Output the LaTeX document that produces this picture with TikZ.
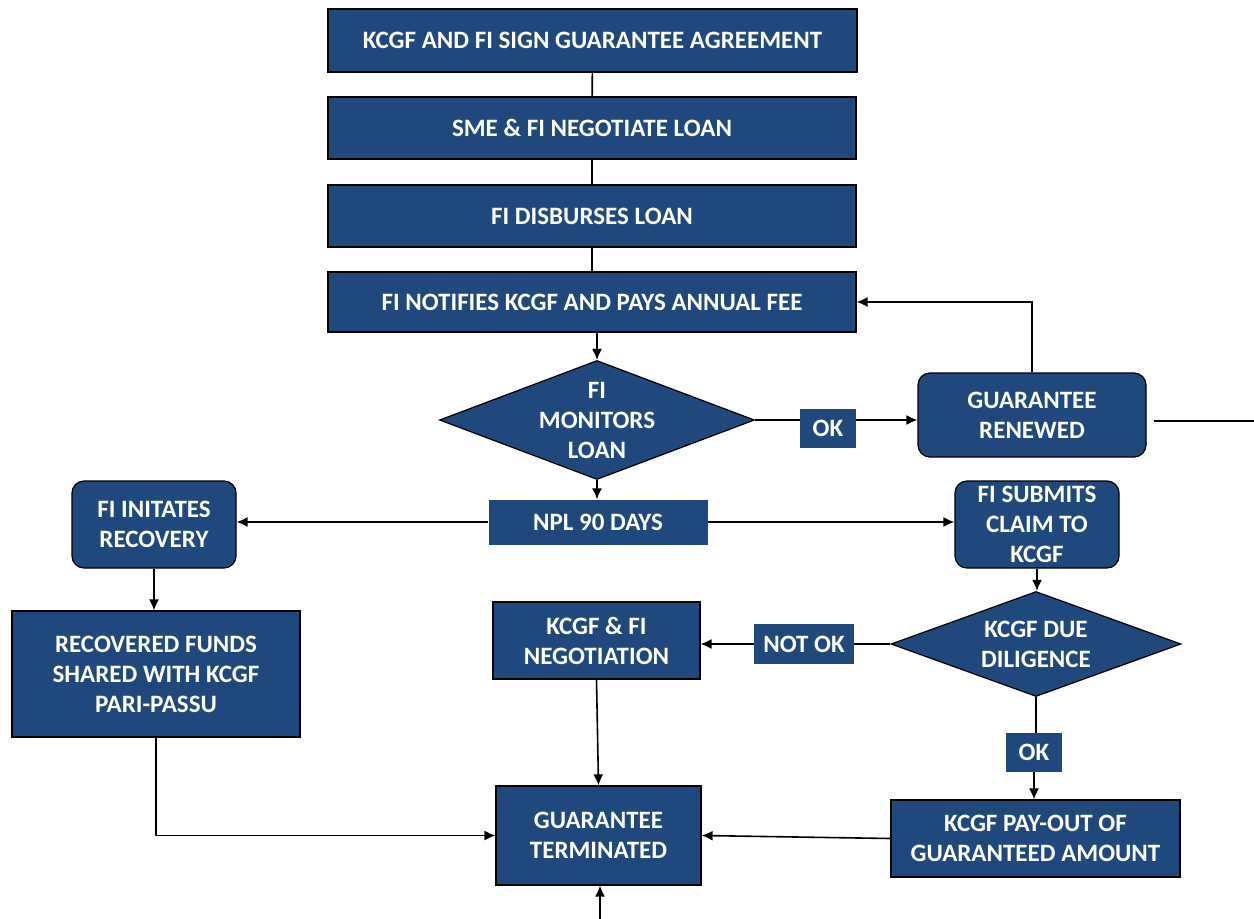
\documentclass[tikz,border=0pt]{standalone}
\usepackage{fontspec}
\setmainfont{Carlito}
\usepackage{tikz}
\usetikzlibrary{positioning,arrows.meta,shapes.geometric}
\definecolor{kblue}{HTML}{1F497D}

\begin{document}
\begin{tikzpicture}[
    x=1pt, y=-1pt,
    >={Latex[length=11pt,width=10pt]},
    font=\fontsize{25}{30}\selectfont\bfseries,
    box/.style={draw=black, fill=kblue, text=white, line width=1.2pt, align=center, inner sep=0pt},
    rbox/.style={box, rounded corners=12pt},
    tag/.style={fill=kblue, text=white, align=center, inner sep=0pt},
    decision/.style={diamond, draw=black, fill=kblue, line width=1.2pt, inner sep=0pt},
    flow/.style={->, line width=1.6pt},
    link/.style={-, line width=1.6pt}
]

\useasboundingbox (0,0) rectangle (1254,919);

% main column
\node[box, minimum width=529pt, minimum height=63pt] (agree) at (592.5,40.5) {KCGF AND FI SIGN GUARANTEE AGREEMENT};
\node[box, minimum width=528pt, minimum height=62pt] (negotiate) at (592,128) {SME \& FI NEGOTIATE LOAN};
\node[box, minimum width=528pt, minimum height=62pt] (disburse) at (592,216) {FI DISBURSES LOAN};
\node[box, minimum width=528pt, minimum height=60pt] (notify) at (592,302) {FI NOTIFIES KCGF AND PAYS ANNUAL FEE};
\node[decision, minimum width=315pt, minimum height=119pt,
      label={[text=white, align=center]center:FI\\MONITORS\\LOAN}] (monitor) at (597,420) {};
\node[tag, minimum width=56pt, minimum height=39pt] (okA) at (828,428) {OK};
\node[rbox, minimum width=228pt, minimum height=84pt] (renewed) at (1032,415) {GUARANTEE\\RENEWED};
\coordinate (exit) at (1254,421);
\node[tag, minimum width=219pt, minimum height=45pt] (npl) at (598,522) {NPL 90 DAYS};

% recovery branch
\node[rbox, minimum width=164pt, minimum height=87pt] (recovery) at (154,524.5) {FI INITATES\\RECOVERY};
\node[box, minimum width=288pt, minimum height=126pt] (shared) at (156,674) {RECOVERED FUNDS\\SHARED WITH KCGF\\PARI-PASSU};

% claim branch
\node[rbox, minimum width=164pt, minimum height=87pt] (claim) at (1037,524.5) {FI SUBMITS\\CLAIM TO\\KCGF};
\node[decision, minimum width=290pt, minimum height=105pt,
      label={[text=white, align=center]center:KCGF DUE\\DILIGENCE}] (diligence) at (1036,644) {};
\node[tag, minimum width=100pt, minimum height=40pt] (notok) at (804,644) {NOT OK};
\node[box, minimum width=207pt, minimum height=77pt] (talks) at (596.5,640.5) {KCGF \& FI\\NEGOTIATION};
\node[tag, minimum width=56pt, minimum height=39pt] (okB) at (1034,752.5) {OK};
\node[box, minimum width=289pt, minimum height=77pt] (payout) at (1035.5,838.5) {KCGF PAY-OUT OF\\GUARANTEED AMOUNT};

% end
\node[box, minimum width=205pt, minimum height=99pt] (terminated) at (598.5,835.5) {GUARANTEE\\TERMINATED};
\coordinate (entry) at (600,919);

% column links
\draw[link] (agree) -- (negotiate);
\draw[link] (negotiate) -- (disburse);
\draw[link] (disburse) -- (notify);
\draw[flow] (monitor.north |- notify.south) -- (monitor.north);

% renewal loop
\draw[link] (monitor.east) -- (okA.west |- monitor.east);
\draw[flow] (okA.east |- monitor.east) -- (renewed.west |- monitor.east);
\draw[flow] (renewed.north) |- (notify.east);
\draw[link] (renewed.east) ++(7,6) -- (exit);

% default
\draw[flow] (monitor.south) -- (monitor.south |- npl.north);
\draw[flow] (npl.west) -- (npl.west -| recovery.east);
\draw[flow] (npl.east) -- (npl.east -| claim.west);
\draw[flow] (recovery.south) -- (recovery.south |- shared.north);
\draw[flow] (claim.south) -- (claim.south |- diligence.north);

% due diligence outcomes
\draw[link] (diligence.west) -- (diligence.west -| notok.east);
\draw[flow] (notok.west) -- (notok.west -| talks.east);
\draw[link] (diligence.south) -- (diligence.south |- okB.north);
\draw[flow] (okB.south) -- (okB.south |- payout.north);

% termination
\draw[flow] (talks.south) -- (terminated.north);
\draw[flow] (payout.west) -- (terminated.east);
\draw[flow] (shared.south) |- (terminated.west);
\draw[flow] (entry) -- (entry |- terminated.south);

\end{tikzpicture}
\end{document}
